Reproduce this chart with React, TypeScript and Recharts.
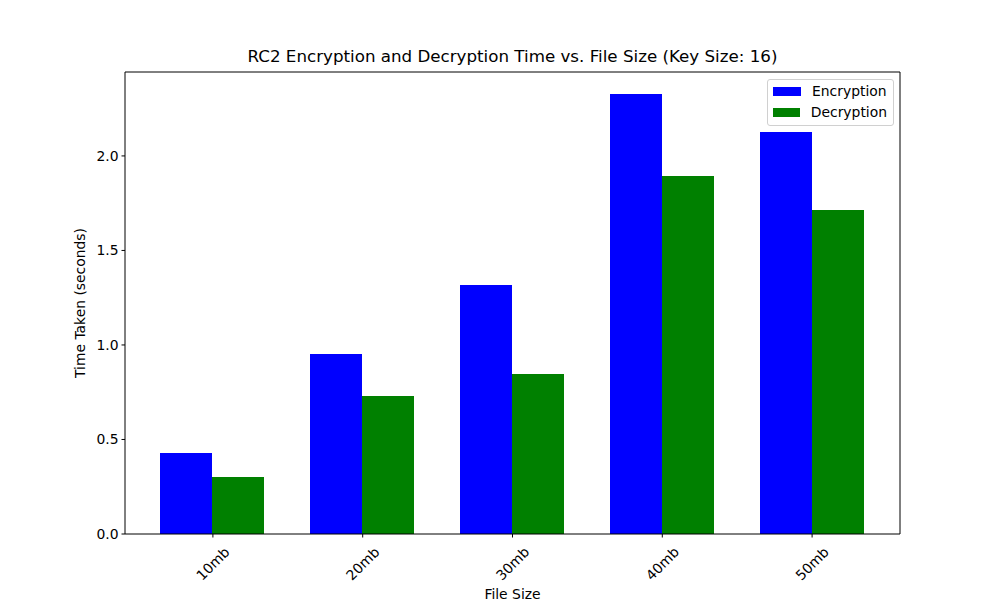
import React from 'react'
import { BarChart, Bar, XAxis, YAxis } from 'recharts'

const fileSizes = ['10mb', '20mb', '30mb', '40mb', '50mb']
const encryptionTimes = [0.429, 0.952, 1.317, 2.328, 2.127]
const decryptionTimes = [0.302, 0.73, 0.847, 1.894, 1.714]
const yTicks = [0, 0.5, 1.0, 1.5, 2.0]

const font = 'DejaVu Sans, sans-serif'

const chartData = fileSizes.map((name, i) => ({
  name,
  encryption: encryptionTimes[i],
  decryption: decryptionTimes[i],
}))

const legendItems = [
  { label: 'Encryption', color: '#0000ff' },
  { label: 'Decryption', color: '#008000' },
]

const RotatedTick = (props: any) => {
  const { x, y, payload } = props
  const cy = y + 24
  return (
    <text
      x={x}
      y={cy}
      textAnchor="middle"
      dominantBaseline="central"
      fontSize={13.9}
      fontFamily={font}
      fill="#000"
      transform={`rotate(-45, ${x}, ${cy})`}
    >
      {payload.value}
    </text>
  )
}

export default function App() {
  return (
    <div style={{ position: 'absolute', left: 0, top: 0, width: 1000, height: 600, background: '#fff' }}>
      <div
        style={{
          position: 'absolute',
          left: 125,
          width: 775,
          top: 46,
          textAlign: 'center',
          fontFamily: font,
          fontSize: 16.7,
          color: '#000',
        }}
      >
        RC2 Encryption and Decryption Time vs. File Size (Key Size: 16)
      </div>
      <BarChart
        width={1000}
        height={600}
        data={chartData}
        margin={{ top: 71, right: 99, bottom: 0, left: 65 }}
        barCategoryGap="15%"
        barGap={0}
      >
        <XAxis
          dataKey="name"
          padding={{ left: 13, right: 13 }}
          height={66}
          tick={<RotatedTick />}
          tickSize={3.5}
          axisLine={{ stroke: '#000', strokeWidth: 1 }}
          tickLine={{ stroke: '#000' }}
          interval={0}
        />
        <XAxis
          xAxisId="top"
          orientation="top"
          dataKey="name"
          height={1}
          tick={false}
          tickLine={false}
          axisLine={{ stroke: '#000' }}
        />
        <YAxis
          domain={[0, 2.444]}
          ticks={yTicks}
          tickFormatter={(v: number) => v.toFixed(1)}
          width={60}
          tickSize={3.5}
          tickMargin={3}
          tick={{ fill: '#000', fontSize: 13.9, fontFamily: font }}
          axisLine={{ stroke: '#000' }}
          tickLine={{ stroke: '#000' }}
          allowDataOverflow
        />
        <YAxis
          yAxisId="right"
          orientation="right"
          width={1}
          tick={false}
          tickLine={false}
          axisLine={{ stroke: '#000' }}
          domain={[0, 2.444]}
        />
        <Bar
          dataKey="encryption"
          name="Encryption"
          fill="#0000ff"
          shapeRendering="crispEdges"
          isAnimationActive={false}
        />
        <Bar
          dataKey="decryption"
          name="Decryption"
          fill="#008000"
          shapeRendering="crispEdges"
          isAnimationActive={false}
        />
      </BarChart>
      <div
        style={{
          position: 'absolute',
          left: 767,
          top: 79,
          border: '1px solid #d0d0d0',
          borderRadius: 3,
          background: 'rgba(255,255,255,0.8)',
          padding: '1px 6px 2px 5px',
          fontFamily: font,
          fontSize: 13.9,
          lineHeight: '21px',
          color: '#000',
          width: 114,
        }}
      >
        {legendItems.map((e) => (
          <div key={e.label} style={{ display: 'flex', alignItems: 'center' }}>
            <span
              style={{ display: 'inline-block', width: 28, height: 9.5, background: e.color, marginRight: 11 }}
            />
            {e.label}
          </div>
        ))}
      </div>
      <div
        style={{
          position: 'absolute',
          left: 125,
          width: 775,
          top: 586,
          textAlign: 'center',
          fontFamily: font,
          fontSize: 13.9,
          color: '#000',
        }}
      >
        File Size
      </div>
      <div
        style={{
          position: 'absolute',
          left: 80,
          top: 303,
          transform: 'translate(-50%, -50%) rotate(-90deg)',
          whiteSpace: 'nowrap',
          fontFamily: font,
          fontSize: 13.9,
          color: '#000',
        }}
      >
        Time Taken (seconds)
      </div>
    </div>
  )
}
